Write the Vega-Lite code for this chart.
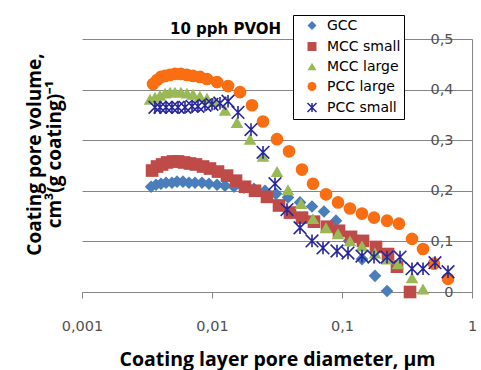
{
  "$schema": "https://vega.github.io/schema/vega-lite/v6.json",
  "width": 390,
  "height": 253,
  "autosize": {"type": "none"},
  "padding": {"left": 82, "top": 39, "right": 9, "bottom": 78},
  "background": "white",
  "title": {"text": "10 pph PVOH", "anchor": "start", "frame": "group", "dx": 88, "dy": 26, "offset": 4, "font": "DejaVu Sans", "fontSize": 15, "fontWeight": "bold", "color": "black"},
  "data": {"values": [
    {"s": "GCC", "d": 0.00340, "v": 0.208},
    {"s": "GCC", "d": 0.00371, "v": 0.212},
    {"s": "GCC", "d": 0.00405, "v": 0.214},
    {"s": "GCC", "d": 0.00443, "v": 0.216},
    {"s": "GCC", "d": 0.00492, "v": 0.216},
    {"s": "GCC", "d": 0.00538, "v": 0.218},
    {"s": "GCC", "d": 0.00598, "v": 0.218},
    {"s": "GCC", "d": 0.00665, "v": 0.216},
    {"s": "GCC", "d": 0.00740, "v": 0.216},
    {"s": "GCC", "d": 0.00838, "v": 0.216},
    {"s": "GCC", "d": 0.00948, "v": 0.214},
    {"s": "GCC", "d": 0.01093, "v": 0.212},
    {"s": "GCC", "d": 0.01259, "v": 0.210},
    {"s": "GCC", "d": 0.01476, "v": 0.208},
    {"s": "GCC", "d": 0.01763, "v": 0.206},
    {"s": "GCC", "d": 0.02104, "v": 0.204},
    {"s": "GCC", "d": 0.02557, "v": 0.200},
    {"s": "GCC", "d": 0.03107, "v": 0.194},
    {"s": "GCC", "d": 0.03843, "v": 0.187},
    {"s": "GCC", "d": 0.04753, "v": 0.177},
    {"s": "GCC", "d": 0.05878, "v": 0.169},
    {"s": "GCC", "d": 0.07269, "v": 0.159},
    {"s": "GCC", "d": 0.08992, "v": 0.141},
    {"s": "GCC", "d": 0.1132, "v": 0.101},
    {"s": "GCC", "d": 0.1425, "v": 0.065},
    {"s": "GCC", "d": 0.1794, "v": 0.032},
    {"s": "GCC", "d": 0.2220, "v": 0.002},
    {"s": "MCC small", "d": 0.00346, "v": 0.240},
    {"s": "MCC small", "d": 0.00378, "v": 0.248},
    {"s": "MCC small", "d": 0.00413, "v": 0.252},
    {"s": "MCC small", "d": 0.00451, "v": 0.256},
    {"s": "MCC small", "d": 0.00501, "v": 0.258},
    {"s": "MCC small", "d": 0.00548, "v": 0.258},
    {"s": "MCC small", "d": 0.00609, "v": 0.256},
    {"s": "MCC small", "d": 0.00677, "v": 0.254},
    {"s": "MCC small", "d": 0.00753, "v": 0.252},
    {"s": "MCC small", "d": 0.00853, "v": 0.248},
    {"s": "MCC small", "d": 0.00965, "v": 0.244},
    {"s": "MCC small", "d": 0.01112, "v": 0.238},
    {"s": "MCC small", "d": 0.01305, "v": 0.230},
    {"s": "MCC small", "d": 0.01530, "v": 0.220},
    {"s": "MCC small", "d": 0.01794, "v": 0.208},
    {"s": "MCC small", "d": 0.02142, "v": 0.200},
    {"s": "MCC small", "d": 0.02649, "v": 0.188},
    {"s": "MCC small", "d": 0.03277, "v": 0.171},
    {"s": "MCC small", "d": 0.03981, "v": 0.157},
    {"s": "MCC small", "d": 0.04924, "v": 0.147},
    {"s": "MCC small", "d": 0.06089, "v": 0.139},
    {"s": "MCC small", "d": 0.07666, "v": 0.129},
    {"s": "MCC small", "d": 0.09482, "v": 0.121},
    {"s": "MCC small", "d": 0.1173, "v": 0.109},
    {"s": "MCC small", "d": 0.1450, "v": 0.101},
    {"s": "MCC small", "d": 0.1826, "v": 0.089},
    {"s": "MCC small", "d": 0.2259, "v": 0.075},
    {"s": "MCC small", "d": 0.2649, "v": 0.050},
    {"s": "MCC small", "d": 0.3336, "v": 0.0},
    {"s": "MCC large", "d": 0.00334, "v": 0.381},
    {"s": "MCC large", "d": 0.00364, "v": 0.385},
    {"s": "MCC large", "d": 0.00398, "v": 0.389},
    {"s": "MCC large", "d": 0.00435, "v": 0.393},
    {"s": "MCC large", "d": 0.00475, "v": 0.395},
    {"s": "MCC large", "d": 0.00519, "v": 0.395},
    {"s": "MCC large", "d": 0.00577, "v": 0.395},
    {"s": "MCC large", "d": 0.00642, "v": 0.393},
    {"s": "MCC large", "d": 0.00714, "v": 0.391},
    {"s": "MCC large", "d": 0.00808, "v": 0.387},
    {"s": "MCC large", "d": 0.00915, "v": 0.383},
    {"s": "MCC large", "d": 0.01036, "v": 0.377},
    {"s": "MCC large", "d": 0.01259, "v": 0.359},
    {"s": "MCC large", "d": 0.01557, "v": 0.335},
    {"s": "MCC large", "d": 0.01960, "v": 0.302},
    {"s": "MCC large", "d": 0.02468, "v": 0.268},
    {"s": "MCC large", "d": 0.03162, "v": 0.238},
    {"s": "MCC large", "d": 0.03843, "v": 0.202},
    {"s": "MCC large", "d": 0.04838, "v": 0.175},
    {"s": "MCC large", "d": 0.05982, "v": 0.145},
    {"s": "MCC large", "d": 0.07532, "v": 0.127},
    {"s": "MCC large", "d": 0.09316, "v": 0.115},
    {"s": "MCC large", "d": 0.1152, "v": 0.101},
    {"s": "MCC large", "d": 0.1425, "v": 0.091},
    {"s": "MCC large", "d": 0.1794, "v": 0.077},
    {"s": "MCC large", "d": 0.2220, "v": 0.065},
    {"s": "MCC large", "d": 0.2697, "v": 0.056},
    {"s": "MCC large", "d": 0.3456, "v": 0.028},
    {"s": "MCC large", "d": 0.4199, "v": 0.006},
    {"s": "PCC large", "d": 0.00352, "v": 0.411},
    {"s": "PCC large", "d": 0.00378, "v": 0.419},
    {"s": "PCC large", "d": 0.00405, "v": 0.425},
    {"s": "PCC large", "d": 0.00435, "v": 0.427},
    {"s": "PCC large", "d": 0.00475, "v": 0.429},
    {"s": "PCC large", "d": 0.00519, "v": 0.431},
    {"s": "PCC large", "d": 0.00577, "v": 0.431},
    {"s": "PCC large", "d": 0.00642, "v": 0.429},
    {"s": "PCC large", "d": 0.00714, "v": 0.427},
    {"s": "PCC large", "d": 0.00808, "v": 0.425},
    {"s": "PCC large", "d": 0.00915, "v": 0.421},
    {"s": "PCC large", "d": 0.01093, "v": 0.415},
    {"s": "PCC large", "d": 0.01328, "v": 0.407},
    {"s": "PCC large", "d": 0.01642, "v": 0.395},
    {"s": "PCC large", "d": 0.02031, "v": 0.369},
    {"s": "PCC large", "d": 0.02468, "v": 0.337},
    {"s": "PCC large", "d": 0.03162, "v": 0.302},
    {"s": "PCC large", "d": 0.03912, "v": 0.278},
    {"s": "PCC large", "d": 0.04924, "v": 0.242},
    {"s": "PCC large", "d": 0.05982, "v": 0.214},
    {"s": "PCC large", "d": 0.07532, "v": 0.193},
    {"s": "PCC large", "d": 0.09316, "v": 0.177},
    {"s": "PCC large", "d": 0.1152, "v": 0.165},
    {"s": "PCC large", "d": 0.1425, "v": 0.155},
    {"s": "PCC large", "d": 0.1763, "v": 0.147},
    {"s": "PCC large", "d": 0.2220, "v": 0.141},
    {"s": "PCC large", "d": 0.2745, "v": 0.135},
    {"s": "PCC large", "d": 0.3456, "v": 0.105},
    {"s": "PCC large", "d": 0.4199, "v": 0.085},
    {"s": "PCC large", "d": 0.5102, "v": 0.056},
    {"s": "PCC large", "d": 0.6538, "v": 0.026},
    {"s": "PCC small", "d": 0.00364, "v": 0.365},
    {"s": "PCC small", "d": 0.00398, "v": 0.365},
    {"s": "PCC small", "d": 0.00443, "v": 0.365},
    {"s": "PCC small", "d": 0.00492, "v": 0.365},
    {"s": "PCC small", "d": 0.00548, "v": 0.365},
    {"s": "PCC small", "d": 0.00620, "v": 0.365},
    {"s": "PCC small", "d": 0.00702, "v": 0.367},
    {"s": "PCC small", "d": 0.00780, "v": 0.367},
    {"s": "PCC small", "d": 0.00883, "v": 0.369},
    {"s": "PCC small", "d": 0.0100, "v": 0.371},
    {"s": "PCC small", "d": 0.01152, "v": 0.373},
    {"s": "PCC small", "d": 0.01328, "v": 0.377},
    {"s": "PCC small", "d": 0.01585, "v": 0.355},
    {"s": "PCC small", "d": 0.01995, "v": 0.321},
    {"s": "PCC small", "d": 0.02468, "v": 0.276},
    {"s": "PCC small", "d": 0.03052, "v": 0.214},
    {"s": "PCC small", "d": 0.03775, "v": 0.163},
    {"s": "PCC small", "d": 0.04753, "v": 0.127},
    {"s": "PCC small", "d": 0.05878, "v": 0.101},
    {"s": "PCC small", "d": 0.07142, "v": 0.087},
    {"s": "PCC small", "d": 0.09151, "v": 0.081},
    {"s": "PCC small", "d": 0.1112, "v": 0.077},
    {"s": "PCC small", "d": 0.1425, "v": 0.071},
    {"s": "PCC small", "d": 0.1763, "v": 0.069},
    {"s": "PCC small", "d": 0.2220, "v": 0.069},
    {"s": "PCC small", "d": 0.2794, "v": 0.069},
    {"s": "PCC small", "d": 0.3456, "v": 0.046},
    {"s": "PCC small", "d": 0.4199, "v": 0.046},
    {"s": "PCC small", "d": 0.5193, "v": 0.058},
    {"s": "PCC small", "d": 0.6538, "v": 0.040}
  ]},
  "mark": {"type": "point", "strokeWidth": 1.6, "opacity": 1},
  "encoding": {
    "x": {"field": "d", "type": "quantitative",
      "scale": {"type": "log", "domain": [0.001, 1]},
      "axis": {"values": [0.001, 0.01, 0.1, 1], "grid": false, "domainColor": "#868686", "tickColor": "#868686", "tickSize": 6, "labelPadding": 21, "labelFont": "DejaVu Sans", "labelFontSize": 14.5, "labelColor": "#505050", "labelFlush": false, "labelOverlap": false, "labelExpr": "replace(toString(datum.value), '.', ',')", "title": "Coating layer pore diameter, µm", "titleFont": "Open Sans", "titleFontSize": 19.5, "titleFontWeight": "bold", "titleColor": "black", "titleY": 73, "titleBaseline": "alphabetic"}},
    "y": {"field": "v", "type": "quantitative",
      "scale": {"domain": [0, 0.5]},
      "axis": {"orient": "right", "values": [0, 0.1, 0.2, 0.3, 0.4, 0.5], "grid": true, "gridColor": "#868686", "gridWidth": 1, "domain": true, "domainColor": "#868686", "ticks": false, "tickSize": 0, "labelAlign": "right", "labelBaseline": "middle", "labelPadding": -19, "labelFont": "DejaVu Sans", "labelFontSize": 14.5, "labelColor": "#505050", "labelFlush": false, "labelOverlap": false, "labelExpr": "replace(toString(datum.value), '.', ',')", "title": ["Coating pore volume,", "cm³(g coating)⁻¹"], "titleAngle": 270, "titleX": -432, "titleY": 115, "titleAlign": "center", "titleBaseline": "alphabetic", "titleFont": "Open Sans", "titleFontSize": 19, "titleFontWeight": "bold", "titleColor": "black", "titleLineHeight": 20}},
    "fill": {"field": "s", "type": "nominal",
      "scale": {"domain": ["GCC", "MCC small", "MCC large", "PCC large", "PCC small"], "range": ["#4A7EBB", "#BE4B48", "#98B954", "#F96E12", "transparent"]},
      "legend": {"title": null, "orient": "none", "legendX": 211, "legendY": -24, "fillColor": "white", "strokeColor": "black", "padding": 3.5, "rowPadding": 5, "symbolOffset": 8.5, "labelOffset": 8, "labelFont": "DejaVu Sans", "labelFontSize": 14, "labelColor": "black", "symbolSize": 80, "symbolStrokeWidth": 1.5, "labelExpr": "datum.label + '\u00a0\u00a0\u00a0'"}},
    "stroke": {"field": "s", "type": "nominal",
      "scale": {"domain": ["GCC", "MCC small", "MCC large", "PCC large", "PCC small"], "range": ["transparent", "transparent", "transparent", "transparent", "#26269A"]},
      "legend": {"title": null, "orient": "none", "legendX": 211, "legendY": -24, "fillColor": "white", "strokeColor": "black", "padding": 3.5, "rowPadding": 5, "symbolOffset": 8.5, "labelOffset": 8, "labelFont": "DejaVu Sans", "labelFontSize": 14, "labelColor": "black", "symbolSize": 80, "symbolStrokeWidth": 1.5, "labelExpr": "datum.label + '\u00a0\u00a0\u00a0'"}},
    "shape": {"field": "s", "type": "nominal",
      "scale": {"domain": ["GCC", "MCC small", "MCC large", "PCC large", "PCC small"], "range": ["diamond", "square", "triangle-up", "circle", "M-1,-1L1,1M1,-1L-1,1M0,-1L0,1"]},
      "legend": {"title": null, "orient": "none", "legendX": 211, "legendY": -24, "fillColor": "white", "strokeColor": "black", "padding": 3.5, "rowPadding": 5, "symbolOffset": 8.5, "labelOffset": 8, "labelFont": "DejaVu Sans", "labelFontSize": 14, "labelColor": "black", "symbolSize": 80, "symbolStrokeWidth": 1.5, "labelExpr": "datum.label + '\u00a0\u00a0\u00a0'"}},
    "size": {"value": 160}
  },
  "config": {"view": {"stroke": null}}
}
